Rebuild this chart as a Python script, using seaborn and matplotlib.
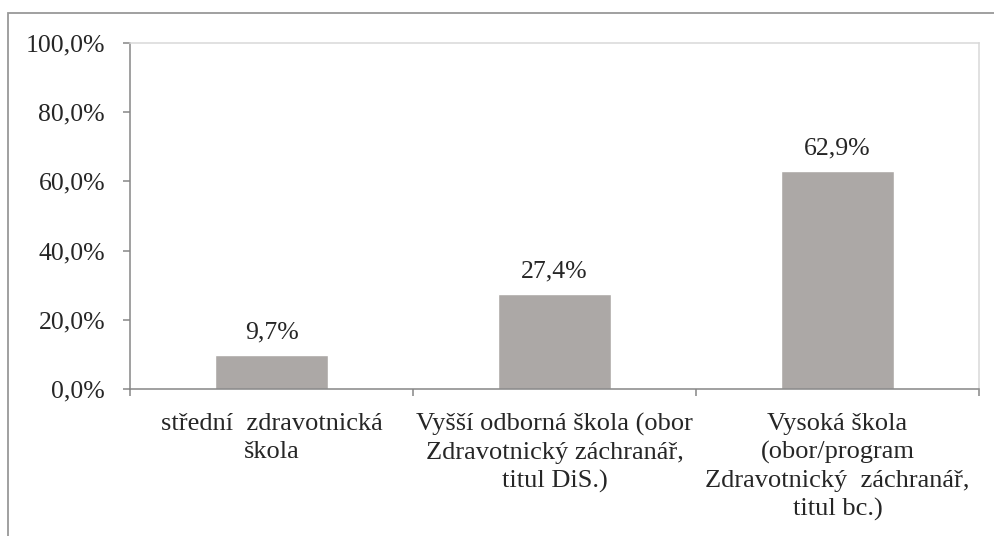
import matplotlib
matplotlib.use("Agg")
import matplotlib.pyplot as plt
import matplotlib.patches as patches
from matplotlib.ticker import FuncFormatter, FixedLocator
import seaborn as sns
import pandas as pd

# data
kategorie = [
    "střední  zdravotnická\nškola",
    "Vyšší odborná škola (obor\nZdravotnický záchranář,\ntitul DiS.)",
    "Vysoká škola\n(obor/program\nZdravotnický  záchranář,\ntitul bc.)",
]
procenta = [9.7, 27.4, 62.9]
y_ticks = [0, 20, 40, 60, 80, 100]

df = pd.DataFrame({"kategorie": kategorie, "procenta": procenta})

sns.set_style("white")
plt.rcParams["font.family"] = ["Liberation Serif", "DejaVu Serif"]
plt.rcParams["font.size"] = 18.5

fig = plt.figure(figsize=(9.94, 5.36), dpi=100)
ax = fig.add_axes([130 / 994, 1 - 389 / 536, (979 - 130) / 994, (389 - 43) / 536])

sns.barplot(data=df, x="kategorie", y="procenta", color="#aca8a6",
            width=0.4, saturation=1, ax=ax)

ax.set_xlim(-0.5, 2.5)
ax.set_ylim(0, 100)
ax.set_xlabel("")
ax.set_ylabel("")

ax.yaxis.set_major_locator(FixedLocator(y_ticks))
ax.yaxis.set_major_formatter(FuncFormatter(lambda v, p: f"{v:.1f}%".replace(".", ",")))

# popisky hodnot
for i, v in enumerate(procenta):
    ax.annotate(f"{v:.1f}%".replace(".", ","), (i, v), xytext=(0, 12),
                textcoords="offset points", ha="center", va="baseline",
                fontsize=18.5)

# osy
axis_grey = "#868686"
for s in ["left", "bottom"]:
    ax.spines[s].set_color(axis_grey)
    ax.spines[s].set_linewidth(1.1)
for s in ["top", "right"]:
    ax.spines[s].set_visible(True)
    ax.spines[s].set_color("#d9d9d9")
    ax.spines[s].set_linewidth(1.1)

ax.tick_params(axis="y", which="major", length=5, width=1.1, color=axis_grey,
               pad=13, labelsize=18.5, left=True)
ax.tick_params(axis="x", which="major", length=0, pad=17.5, labelsize=19)
ax.set_xticks([-0.5, 0.5, 1.5, 2.5], minor=True)
ax.tick_params(axis="x", which="minor", length=5, width=1.1, color=axis_grey,
               bottom=True)
for lab in ax.get_xticklabels():
    lab.set_linespacing(1.33)
    lab.set_ha("center")

# ramecek grafu
fig.add_artist(patches.Rectangle((8 / 994, -0.1), 1.2, 1.1 - 13 / 536,
                                 transform=fig.transFigure, fill=False,
                                 edgecolor="#999999", linewidth=1.3,
                                 clip_on=False))

fig.savefig("out.png", dpi=100)
